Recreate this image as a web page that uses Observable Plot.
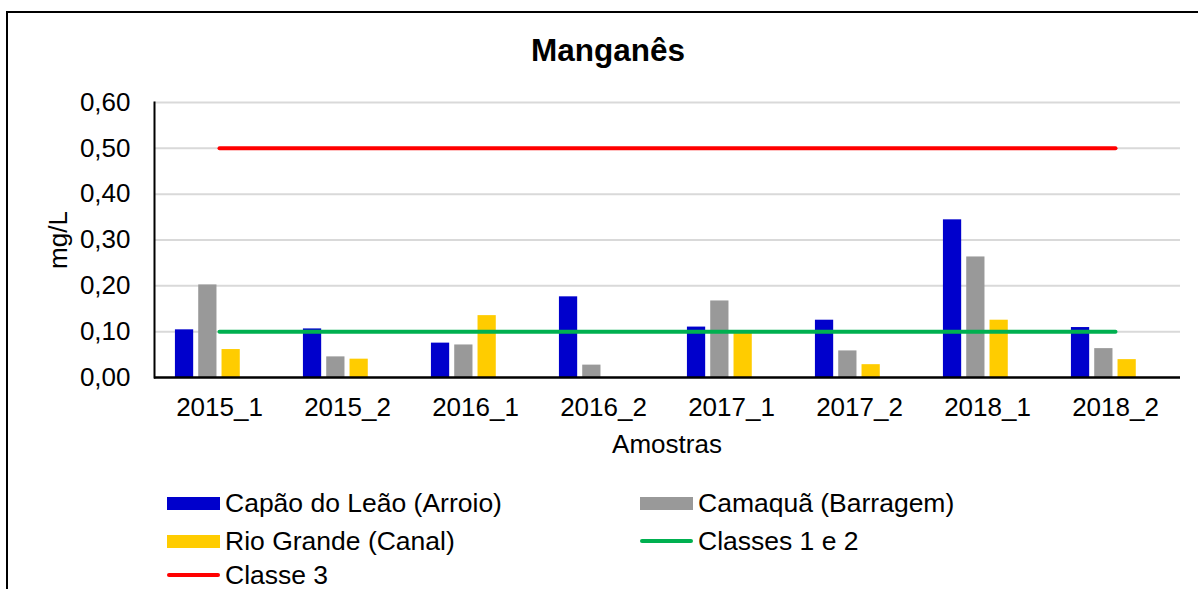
<!DOCTYPE html>
<html>
<head>
<meta charset="utf-8">
<script src="https://cdn.jsdelivr.net/npm/d3@7"></script>
<script src="https://cdn.jsdelivr.net/npm/@observablehq/plot@0.6"></script>
<style>
  html, body { margin: 0; padding: 0; background: #fff; }
  #wrap { position: relative; width: 1198px; height: 589px; overflow: hidden; background: #fff;
          font-family: "Liberation Sans", Arial, sans-serif; color: #000; }
  #chart { position: absolute; left: 0; top: 0; }
  #border { position: absolute; left: 6px; top: 11px; width: 1300px; height: 700px;
            border-left: 2.5px solid #000; border-top: 2.5px solid #000; z-index: 5; pointer-events: none; }
  .abs { position: absolute; white-space: nowrap; z-index: 6; }
  #title { left: 408px; width: 400px; top: 32px; text-align: center; font-weight: bold; font-size: 31.5px; line-height: 36px; }
  #xlabel { left: 567px; width: 200px; top: 429px; text-align: center; font-size: 26px; line-height: 30px; }
  #ylabel { left: 58px; top: 240px; font-size: 26px; line-height: 30px; transform: translate(-50%, -50%) rotate(-90deg); }
  .leg { position: absolute; display: flex; align-items: center; font-size: 26.5px; line-height: 30px; z-index: 6; white-space: nowrap; }
  .sw { width: 53px; height: 13px; margin-right: 5px; }
  .ln { width: 53px; height: 4px; border-radius: 2px; margin-right: 5px; }
</style>
</head>
<body>
<div id="wrap">
  <div id="chart"></div>
  <div id="border"></div>
  <div id="title" class="abs">Manganês</div>
  <div id="xlabel" class="abs">Amostras</div>
  <div id="ylabel" class="abs">mg/L</div>
  <div id="legend"></div>
</div>
<script>
// ---- data ----
const categories = ["2015_1", "2015_2", "2016_1", "2016_2", "2017_1", "2017_2", "2018_1", "2018_2"];
const capaoDoLeao = [0.104, 0.106, 0.075, 0.176, 0.110, 0.125, 0.344, 0.109];
const camaqua     = [0.202, 0.045, 0.071, 0.027, 0.167, 0.058, 0.263, 0.063];
const rioGrande   = [0.061, 0.040, 0.135, null,  0.097, 0.028, 0.125, 0.039];
const classes12Limit = 0.10;
const classe3Limit = 0.50;
const yTicks = [0, 0.1, 0.2, 0.3, 0.4, 0.5, 0.6];
const seriesNames = ["Capão do Leão (Arroio)", "Camaquã (Barragem)", "Rio Grande (Canal)"];
const lineNames = ["Classes 1 e 2", "Classe 3"];

// ---- styles ----
const colors = ["#0000CC", "#999999", "#FFCC00"];
const lineColors = ["#00B050", "#FF0000"];

const W = 1198, H = 470;
const mL = 154, mR = 18, mT = 102, mB = 93;
const band = (W - mL - mR) / categories.length;
const slot = 23.3, barW = 18.5, nSlots = 4;
const inset = (band - barW) / 2;

const seriesData = [capaoDoLeao, camaqua, rioGrande].map(vals =>
  categories.map((c, i) => ({cat: c, value: vals[i]})).filter(d => d.value != null));

const fmt = d => d.toFixed(2).replace(".", ",");

const plot = Plot.plot({
  width: W, height: H,
  marginLeft: mL, marginRight: mR, marginTop: mT, marginBottom: mB,
  style: {fontFamily: "Liberation Sans, Arial, sans-serif", fontSize: "26px", color: "#000", background: "transparent"},
  x: {domain: categories, padding: 0, label: null},
  y: {domain: [0, 0.6], label: null},
  marks: [
    Plot.gridY(yTicks.slice(1), {stroke: "#D9D9D9", strokeOpacity: 1, strokeWidth: 2}),
    ...seriesData.map((data, i) => Plot.barY(data, {
      x: "cat", y: "value", fill: colors[i],
      insetLeft: inset, insetRight: inset,
      dx: (i - (nSlots - 1) / 2) * slot
    })),
    Plot.lineY(categories, {x: d => d, y: () => classes12Limit, stroke: lineColors[0], strokeWidth: 4, strokeLinecap: "round"}),
    Plot.lineY(categories, {x: d => d, y: () => classe3Limit, stroke: lineColors[1], strokeWidth: 4, strokeLinecap: "round"}),
    Plot.ruleY([0], {stroke: "#000", strokeWidth: 2.5}),
    Plot.frame({anchor: "left", stroke: "#000", strokeWidth: 2}),
    Plot.axisY({ticks: yTicks, tickSize: 0, tickPadding: 24, tickFormat: fmt, label: null, fontSize: 26}),
    Plot.axisX({tickSize: 0, tickPadding: 20, label: null, fontSize: 26})
  ]
});
document.getElementById("chart").appendChild(plot);

// ---- legend ----
const legend = document.getElementById("legend");
const items = [
  {name: seriesNames[0], type: "sw", color: colors[0], x: 167, y: 503},
  {name: seriesNames[1], type: "sw", color: colors[1], x: 640, y: 503},
  {name: seriesNames[2], type: "sw", color: colors[2], x: 167, y: 541},
  {name: lineNames[0], type: "ln", color: lineColors[0], x: 640, y: 541},
  {name: lineNames[1], type: "ln", color: lineColors[1], x: 167, y: 575}
];
for (const it of items) {
  const d = document.createElement("div");
  d.className = "leg";
  d.style.left = it.x + "px";
  d.style.top = (it.y - 15) + "px";
  const s = document.createElement("span");
  s.className = it.type;
  s.style.background = it.color;
  const t = document.createElement("span");
  t.textContent = it.name;
  d.appendChild(s); d.appendChild(t);
  legend.appendChild(d);
}
</script>
</body>
</html>
